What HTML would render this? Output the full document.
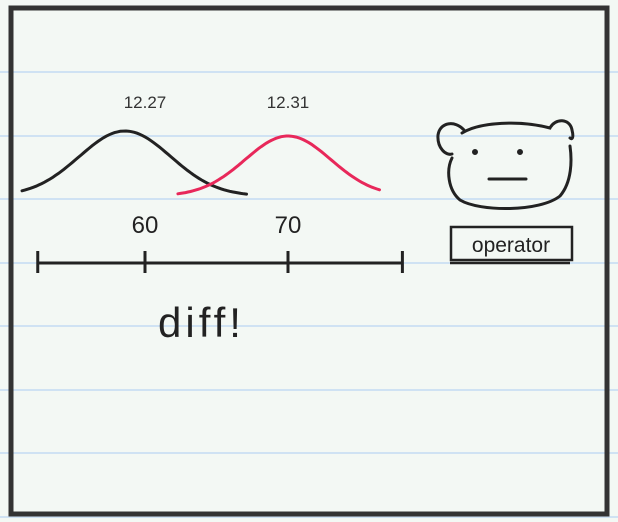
<!DOCTYPE html>
<html><head><meta charset="utf-8"><style>
html,body{margin:0;padding:0;width:618px;height:522px;overflow:hidden;background:#f3f8f4}
svg{display:block}
text{font-family:"Liberation Sans",sans-serif}
</style></head><body>
<svg id="c" width="618" height="522" viewBox="0 0 618 522">
<g id="rules"></g>
<rect x="11" y="8" width="596" height="506" fill="none" stroke="#333" stroke-width="5"/>
<g id="chart"></g>
<text x="158" y="337" font-size="42" fill="#222" letter-spacing="4">diff!</text>
<g fill="none" stroke="#222" stroke-width="3" stroke-linecap="round">
<path d="M464 130 C455 120 440 122 438 135 C437 148 446 156 452 154"/>
<path d="M462 133 C480 122 520 120 550 128 C555 118 570 118 572 130 C574 138 572 140 570 138"/>
<path d="M452 158 C446 170 448 190 460 200 C480 212 540 212 560 196 C572 182 572 160 570 146"/>
<circle cx="475" cy="152" r="1.5" fill="#222"/>
<circle cx="520" cy="152" r="1.5" fill="#222"/>
<line x1="489" y1="179" x2="526" y2="179"/>
</g>
<rect x="451" y="227" width="121" height="33" fill="none" stroke="#222" stroke-width="2.5"/>
<line x1="450" y1="263" x2="570" y2="263" stroke="#222" stroke-width="2.5"/>
<text x="511" y="252" font-size="21" fill="#222" text-anchor="middle">operator</text>
</svg>
<script>
const ruleYs=[72,136,199,263,326,390,453,517];
const names=['black','red'];
const means=[58.6,70];
const sds=[3.2,3.0];
const peaks=[65,60];
const starts=[51.4,62.3];
const ends=[67.1,76.4];
const colors=['#222','#e8285a'];
const meanLabels=['12.27','12.31'];
const labelX=[60,70];
const ticks=[52.5,60,70,78];
const tickLabels=['','60','70',''];
const NS='http://www.w3.org/2000/svg';
const xs=v=>145+(v-60)*14.3;
const base=196;
const rules=document.getElementById('rules');
ruleYs.forEach(y=>{const l=document.createElementNS(NS,'line');


l.setAttribute('x1',0);l.setAttribute('x2',618);l.setAttribute('y1',y);l.setAttribute('y2',y);
l.setAttribute('stroke','#cfe2f3');l.setAttribute('stroke-width','2');rules.appendChild(l);});
const ch=document.getElementById('chart');
names.forEach((n,i)=>{let d='';
for(let k=0;k<=80;k++){const v=starts[i]+(ends[i]-starts[i])*k/80;
const y=base-peaks[i]*Math.exp(-0.5*Math.pow((v-means[i])/sds[i],2));
d+=(k?'L':'M')+xs(v).toFixed(1)+' '+y.toFixed(1);}
const p=document.createElementNS(NS,'path');


p.setAttribute('d',d);p.setAttribute('fill','none');p.setAttribute('stroke',colors[i]);
p.setAttribute('stroke-width','3');p.setAttribute('stroke-linecap','round');ch.appendChild(p);
const t=document.createElementNS(NS,'text');


t.setAttribute('x',xs(labelX[i]));t.setAttribute('y',108);t.setAttribute('font-size','17');
t.setAttribute('text-anchor','middle');t.setAttribute('fill','#333');t.textContent=meanLabels[i];ch.appendChild(t);});
const ax=document.createElementNS(NS,'line');


ax.setAttribute('x1',xs(ticks[0]));ax.setAttribute('x2',xs(ticks[ticks.length-1]));ax.setAttribute('y1',263);ax.setAttribute('y2',263);
ax.setAttribute('stroke','#222');ax.setAttribute('stroke-width','3');ch.appendChild(ax);
ticks.forEach((v,i)=>{const l=document.createElementNS(NS,'line');


l.setAttribute('x1',xs(v));l.setAttribute('x2',xs(v));l.setAttribute('y1',251);l.setAttribute('y2',273);
l.setAttribute('stroke','#222');l.setAttribute('stroke-width','3');ch.appendChild(l);
if(tickLabels[i]){const t=document.createElementNS(NS,'text');


t.setAttribute('x',xs(v));t.setAttribute('y',233);t.setAttribute('font-size','24');
t.setAttribute('text-anchor','middle');t.setAttribute('fill','#222');t.textContent=tickLabels[i];ch.appendChild(t);}});
</script>
</body></html>
